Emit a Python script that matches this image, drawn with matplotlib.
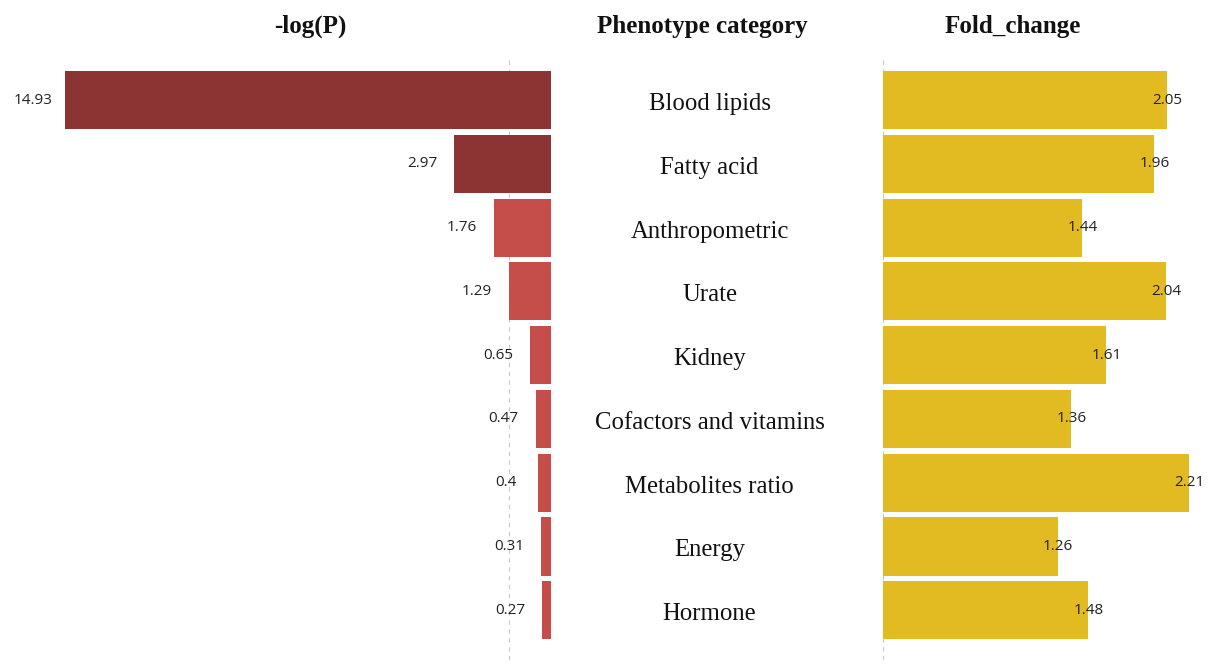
import matplotlib.pyplot as plt

categories = ["Blood lipids", "Fatty acid", "Anthropometric", "Urate", "Kidney",
              "Cofactors and vitamins", "Metabolites ratio", "Energy", "Hormone"]
neg_log_p = [14.93, 2.97, 1.76, 1.29, 0.65, 0.47, 0.4, 0.31, 0.27]
fold_change = [2.05, 1.96, 1.44, 2.04, 1.61, 1.36, 2.21, 1.26, 1.48]
sig_line = 1.301  # -log10(0.05)

DARK_RED = "#8C3434"
LIGHT_RED = "#C64E4A"
GOLD = "#E2BA22"

W, H = 1210, 664
fig = plt.figure(figsize=(W / 100, H / 100), dpi=100)

def px_axes(x0, x1, y0=60, y1=660):
    # pixel box -> figure fraction axes
    return fig.add_axes([x0 / W, 1 - y1 / H, (x1 - x0) / W, (y1 - y0) / H])

rows = list(range(len(categories)))
ylim = (8.78, -0.63)

# left panel: -log(P)
ax1 = px_axes(40, 551)
colors = [DARK_RED if v > 2 else LIGHT_RED for v in neg_log_p]
ax1.barh(rows, neg_log_p, height=0.91, color=colors)
ax1.set_xlim(15.70, 0)
ax1.set_ylim(*ylim)
ax1.axvline(sig_line, color="#c8c8c8", lw=0.8, ls=(0, (4, 4)), zorder=0)
for r, v in zip(rows, neg_log_p):
    ax1.annotate(f"{v:g}", (v, r), xytext=(-23, 0), textcoords="offset points",
                 ha="center", va="center", fontsize=11, family="Open Sans", color="#222222")
ax1.axis("off")

# right panel: Fold_change
ax2 = px_axes(883, 1205)
ax2.barh(rows, fold_change, height=0.91, color=GOLD)
ax2.set_xlim(0, 2.325)
ax2.set_ylim(*ylim)
ax2.axvline(0, color="#c8c8c8", lw=0.8, ls=(0, (4, 4)), zorder=0)
for r, v in zip(rows, fold_change):
    ax2.annotate(f"{v:g}", (v, r), xytext=(0.5, 0), textcoords="offset points",
                 ha="center", va="center", fontsize=11, family="Open Sans", color="#222222")
ax2.axis("off")

# middle: category names
ax3 = px_axes(560, 875)
ax3.set_xlim(0, 1)
ax3.set_ylim(*ylim)
for r, name in zip(rows, categories):
    ax3.text(0.475, r + 0.06, name, ha="center", va="center", fontsize=17.8,
             family="Liberation Serif", color="#111111")
ax3.axis("off")

title_kw = dict(ha="center", va="center", fontsize=18, fontweight="bold",
                family="Liberation Serif", color="#111111")
fig.text(310 / W, 1 - 26 / H, "-log(P)", **title_kw)
fig.text(702 / W, 1 - 26 / H, "Phenotype category", **title_kw)
fig.text(1013 / W, 1 - 26 / H, "Fold_change", **title_kw)

fig.savefig("out.png", dpi=100, facecolor="white")
